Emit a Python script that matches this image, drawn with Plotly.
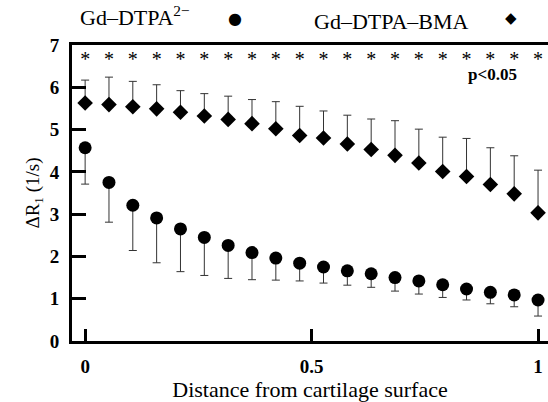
import plotly.graph_objects as go

x_pos = [i / 19 for i in range(20)]
bma_mean = [5.63, 5.59, 5.54, 5.49, 5.41, 5.32, 5.24, 5.14, 5.02, 4.86,
            4.80, 4.66, 4.53, 4.39, 4.21, 4.01, 3.89, 3.70, 3.48, 3.03]
bma_err = [0.54, 0.65, 0.60, 0.57, 0.51, 0.53, 0.55, 0.57, 0.64, 0.69,
           0.64, 0.68, 0.72, 0.82, 0.80, 0.81, 0.90, 0.87, 0.90, 1.01]
dtpa_mean = [4.57, 3.75, 3.21, 2.91, 2.65, 2.45, 2.26, 2.09, 1.96, 1.84,
             1.75, 1.66, 1.59, 1.50, 1.42, 1.33, 1.23, 1.15, 1.09, 0.97]
dtpa_err = [0.86, 0.94, 1.07, 1.06, 1.01, 0.90, 0.78, 0.64, 0.52, 0.42,
            0.38, 0.34, 0.32, 0.32, 0.31, 0.30, 0.26, 0.27, 0.28, 0.38]
star_y = [6.62] * 20
x_ticks = [0, 0.5, 1]
x_ticklabels = ["0", "0.5", "1"]
y_ticks = [0, 1, 2, 3, 4, 5, 6, 7]

FONT = "Liberation Serif"

fig = go.Figure()
fig.add_trace(go.Scatter(
    x=x_pos, y=bma_mean, mode="markers",
    marker=dict(symbol="diamond", size=12, color="black"),
    error_y=dict(type="data", symmetric=False, array=bma_err,
                 arrayminus=[0] * 20, color="#333333", thickness=1, width=4),
    showlegend=False))
fig.add_trace(go.Scatter(
    x=x_pos, y=dtpa_mean, mode="markers",
    marker=dict(symbol="circle", size=13, color="black"),
    error_y=dict(type="data", symmetric=False, array=[0] * 20,
                 arrayminus=dtpa_err, color="#333333", thickness=1, width=4),
    showlegend=False))
fig.add_trace(go.Scatter(
    x=x_pos, y=star_y, mode="text", text=["*"] * 20,
    textposition="middle center",
    textfont=dict(family=FONT, size=20, color="black"),
    showlegend=False))

fig.add_annotation(x=0.90, y=6.30, xref="x", yref="y", text="<b>p<0.05</b>",
                   showarrow=False, font=dict(family=FONT, size=17, color="black"))

# legend-like header
fig.add_annotation(x=(78 - 72) / 476, y=1.098, xref="paper", yref="paper",
                   xanchor="left", yanchor="middle",
                   text="Gd–DTPA<sup>2−</sup>", showarrow=False,
                   font=dict(family=FONT, size=22, color="black"))
fig.add_annotation(x=(235 - 72) / 476, y=1.09, xref="paper", yref="paper",
                   xanchor="center", yanchor="middle",
                   text="●", showarrow=False,
                   font=dict(family="DejaVu Sans", size=16, color="black"))
fig.add_annotation(x=(312 - 72) / 476, y=1.078, xref="paper", yref="paper",
                   xanchor="left", yanchor="middle",
                   text="Gd–DTPA–BMA", showarrow=False,
                   font=dict(family=FONT, size=22, color="black"))
fig.add_annotation(x=(511 - 72) / 476, y=1.09, xref="paper", yref="paper",
                   xanchor="center", yanchor="middle",
                   text="◆", showarrow=False,
                   font=dict(family="DejaVu Sans", size=15, color="black"))

fig.update_layout(
    width=548, height=402,
    margin=dict(l=72, r=0, t=45, b=61),
    plot_bgcolor="white", paper_bgcolor="white",
    font=dict(family=FONT, color="black"),
    xaxis=dict(range=[-0.029, 1.022], tickvals=x_ticks, ticktext=x_ticklabels,
               showgrid=False, zeroline=False, showline=True, linewidth=3,
               linecolor="black", mirror=True, ticks="inside", ticklen=12,
               tickwidth=3, tickcolor="black", ticklabelstandoff=6,
               tickfont=dict(family=FONT, size=19, weight="bold"),
               title=dict(text="Distance from cartilage surface",
                          font=dict(family=FONT, size=22), standoff=4)),
    yaxis=dict(range=[0, 7], tickvals=y_ticks, showgrid=False, zeroline=False,
               showline=True, linewidth=3, linecolor="black", ticks="inside",
               ticklen=14, tickwidth=3, tickcolor="black", ticklabelstandoff=6,
               tickfont=dict(family=FONT, size=19, weight="bold"),
               title=dict(text="ΔR<sub>1</sub> (1/s)",
                          font=dict(family=FONT, size=19), standoff=6)),
)

fig.write_html("out.html", post_script="document.body.style.margin='0';",
               config={"displayModeBar": False})
